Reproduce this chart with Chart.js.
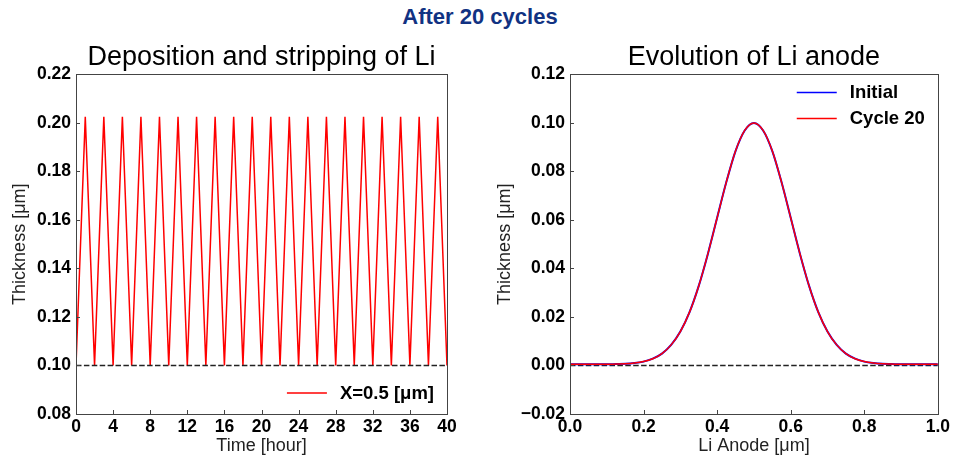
<!DOCTYPE html>
<html>
<head>
<meta charset="utf-8">
<script src="https://cdn.jsdelivr.net/npm/chart.js@4/dist/chart.umd.min.js"></script>
<style>
    body { margin: 0; background: #fff; }
    #wrap { position: relative; width: 953px; height: 463px; overflow: hidden; }
    #mainTitle {
        position: absolute; left: 0; top: 4px; width: 960px; text-align: center;
        font: bold 22px "Liberation Sans", Arial, sans-serif; color: #113282;
    }
    #leftBox { position: absolute; left: 0; top: 0; width: 476px; height: 463px; }
    #rightBox { position: absolute; left: 476px; top: 0; width: 477px; height: 463px; }
</style>
</head>
<body>
<div id="wrap">
    <div id="mainTitle">After 20 cycles</div>
    <div id="leftBox"><canvas id="chartLeft"></canvas></div>
    <div id="rightBox"><canvas id="chartRight"></canvas></div>
</div>
<script>
// Left panel: thickness at X=0.5 um over time
const timeHours = [0, 1, 2, 3, 4, 5, 6, 7, 8, 9, 10, 11, 12, 13, 14, 15, 16, 17, 18, 19, 20,
    21, 22, 23, 24, 25, 26, 27, 28, 29, 30, 31, 32, 33, 34, 35, 36, 37, 38, 39, 40];
const thicknessX05 = [0.100, 0.2025, 0.100, 0.2025, 0.100, 0.2025, 0.100, 0.2025, 0.100, 0.2025,
    0.100, 0.2025, 0.100, 0.2025, 0.100, 0.2025, 0.100, 0.2025, 0.100, 0.2025,
    0.100, 0.2025, 0.100, 0.2025, 0.100, 0.2025, 0.100, 0.2025, 0.100, 0.2025,
    0.100, 0.2025, 0.100, 0.2025, 0.100, 0.2025, 0.100, 0.2025, 0.100, 0.2025, 0.100];
const refTimeX = [0, 40];
const refTimeY = [0.10, 0.10];

// Right panel: anode profile
const anodeX = [0, 0.025, 0.05, 0.075, 0.1, 0.125, 0.15, 0.175, 0.2, 0.225, 0.25, 0.275, 0.3,
    0.325, 0.35, 0.375, 0.4, 0.425, 0.45, 0.475, 0.5, 0.525, 0.55, 0.575, 0.6, 0.625, 0.65,
    0.675, 0.7, 0.725, 0.75, 0.775, 0.8, 0.825, 0.85, 0.875, 0.9, 0.925, 0.95, 0.975, 1.0];
const initialThickness = [0.0005, 0.0005, 0.0005, 0.0005, 0.0005, 0.0006, 0.0007, 0.0010, 0.0016,
    0.0028, 0.0049, 0.0085, 0.0140, 0.0220, 0.0328, 0.0461, 0.0609, 0.0756, 0.0884, 0.0969,
    0.1000, 0.0969, 0.0884, 0.0756, 0.0609, 0.0461, 0.0328, 0.0220, 0.0140, 0.0085, 0.0049,
    0.0028, 0.0016, 0.0010, 0.0007, 0.0006, 0.0005, 0.0005, 0.0005, 0.0005, 0.0005];
const cycle20Thickness = [0.0005, 0.0005, 0.0005, 0.0005, 0.0005, 0.0006, 0.0007, 0.0010, 0.0016,
    0.0028, 0.0049, 0.0085, 0.0140, 0.0220, 0.0328, 0.0461, 0.0609, 0.0756, 0.0884, 0.0969,
    0.1000, 0.0969, 0.0884, 0.0756, 0.0609, 0.0461, 0.0328, 0.0220, 0.0140, 0.0085, 0.0049,
    0.0028, 0.0016, 0.0010, 0.0007, 0.0006, 0.0005, 0.0005, 0.0005, 0.0005, 0.0005];
const refAnodeX = [0, 1];
const refAnodeY = [0, 0];

const FONT = '"Liberation Sans", Arial, Helvetica, sans-serif';

function toPoints(xs, ys) {
    return xs.map((x, i) => ({x: x, y: ys[i]}));
}

// draws frame, inward ticks and legend like matplotlib
const mplPlugin = {
    id: 'mpl',
    afterDatasetsDraw(chart, args, opts) {
        const ctx = chart.ctx;
        const area = chart.chartArea;
        ctx.save();
        ctx.strokeStyle = '#444';
        ctx.lineWidth = 1;
        // inward tick marks
        const xs = chart.scales.x, ys = chart.scales.y;
        ctx.beginPath();
        xs.ticks.forEach(t => {
            const px = Math.round(xs.getPixelForValue(t.value)) + 0.5;
            ctx.moveTo(px, area.bottom);
            ctx.lineTo(px, area.bottom - 4);
        });
        ys.ticks.forEach(t => {
            const py = Math.round(ys.getPixelForValue(t.value)) + 0.5;
            ctx.moveTo(area.left, py);
            ctx.lineTo(area.left + 4, py);
        });
        ctx.stroke();
        // frame
        ctx.strokeRect(Math.round(area.left) + 0.5, Math.round(area.top) + 0.5,
            Math.round(area.right - area.left), Math.round(area.bottom - area.top));

        // legend
        const items = chart.data.datasets.filter(d => d.inLegend);
        ctx.font = 'bold 18.5px ' + FONT;
        let maxW = 0;
        items.forEach(d => { maxW = Math.max(maxW, ctx.measureText(d.label).width); });
        const blockW = 40 + 13 + maxW;
        const left = area.right - 13 - blockW;
        let y = opts.where === 'bottom' ? area.bottom - 21 - (items.length - 1) * 26 : area.top + 18;
        items.forEach(d => {
            ctx.strokeStyle = d.borderColor;
            ctx.lineWidth = 1.5;
            ctx.beginPath();
            ctx.moveTo(left, y);
            ctx.lineTo(left + 40, y);
            ctx.stroke();
            ctx.fillStyle = '#000';
            ctx.textBaseline = 'middle';
            ctx.textAlign = 'left';
            ctx.fillText(d.label, left + 53, y + 1);
            y += 26;
        });
        ctx.restore();
    }
};

function makeOptions(cfg) {
    return {
        responsive: true,
        maintainAspectRatio: false,
        animation: false,
        layout: {padding: {top: 41, left: 0, right: cfg.padRight, bottom: 0}},
        plugins: {
            legend: {display: false},
            tooltip: {enabled: false},
            title: {
                display: true,
                text: cfg.title,
                fullSize: false,
                color: '#000',
                font: {family: FONT, size: 27, weight: 'normal'},
                padding: {top: 0, bottom: 1}
            },
            mpl: {where: cfg.legendWhere}
        },
        scales: {
            x: {
                type: 'linear',
                min: cfg.xMin, max: cfg.xMax,
                afterFit: s => { s.height = 49; },
                grid: {display: false, drawTicks: false},
                border: {display: false},
                ticks: {
                    stepSize: cfg.xStep, autoSkip: false, maxRotation: 0, padding: 3,
                    color: '#000', font: {family: FONT, size: 17.5, weight: 'bold'},
                    callback: v => cfg.xFmt(v)
                },
                title: {
                    display: true, text: cfg.xTitle, color: '#222',
                    font: {family: FONT, size: 18}, padding: {top: 0, bottom: 6}
                }
            },
            y: {
                type: 'linear',
                min: cfg.yMin, max: cfg.yMax,
                afterFit: s => { s.width = cfg.yWidth; },
                grid: {display: false, drawTicks: false},
                border: {display: false},
                ticks: {
                    stepSize: 0.02, autoSkip: false, padding: 5,
                    color: '#000', font: {family: FONT, size: 17.5, weight: 'bold'},
                    callback: v => (v < -1e-9 ? '\u2212' + Math.abs(v).toFixed(2) : Math.abs(v).toFixed(2))
                },
                title: {
                    display: true, text: 'Thickness [\u03bcm]', color: '#222',
                    font: {family: FONT, size: 18}, padding: {top: cfg.yTitlePad, bottom: 0}
                }
            }
        }
    };
}

new Chart(document.getElementById('chartLeft'), {
    type: 'line',
    data: {
        datasets: [{
            label: 'ref',
            data: toPoints(refTimeX, refTimeY),
            borderColor: '#222', borderWidth: 1.6, borderDash: [5.5, 2.4],
            pointRadius: 0, order: 0
        }, {
            label: 'X=0.5 [\u03bcm]',
            inLegend: true,
            data: toPoints(timeHours, thicknessX05),
            borderColor: '#ff0000', borderWidth: 1.5,
            pointRadius: 0, tension: 0, order: 1
        }]
    },
    options: makeOptions({
        title: 'Deposition and stripping of Li', padRight: 29,
        xMin: 0, xMax: 40, xStep: 4, xFmt: v => String(v), xTitle: 'Time [hour]',
        yMin: 0.08, yMax: 0.22, yWidth: 76, yTitlePad: 9, legendWhere: 'bottom'
    }),
    plugins: [mplPlugin]
});

new Chart(document.getElementById('chartRight'), {
    type: 'line',
    data: {
        datasets: [{
            label: 'ref',
            data: toPoints(refAnodeX, refAnodeY),
            borderColor: '#222', borderWidth: 1.6, borderDash: [5.5, 2.4],
            pointRadius: 0, order: 2
        }, {
            label: 'Initial',
            inLegend: true,
            data: toPoints(anodeX, initialThickness),
            borderColor: '#0000ff', borderWidth: 2,
            pointRadius: 0, cubicInterpolationMode: 'monotone', order: 1
        }, {
            label: 'Cycle 20',
            inLegend: true,
            data: toPoints(anodeX, cycle20Thickness),
            borderColor: '#ff0000', borderWidth: 1.5,
            pointRadius: 0, cubicInterpolationMode: 'monotone', order: 0
        }]
    },
    options: makeOptions({
        title: 'Evolution of Li anode', padRight: 13,
        xMin: 0, xMax: 1, xStep: 0.2, xFmt: v => v.toFixed(1), xTitle: 'Li Anode [\u03bcm]',
        yMin: -0.02, yMax: 0.12, yWidth: 94, yTitlePad: 18, legendWhere: 'top'
    }),
    plugins: [mplPlugin]
});
</script>
</body>
</html>
